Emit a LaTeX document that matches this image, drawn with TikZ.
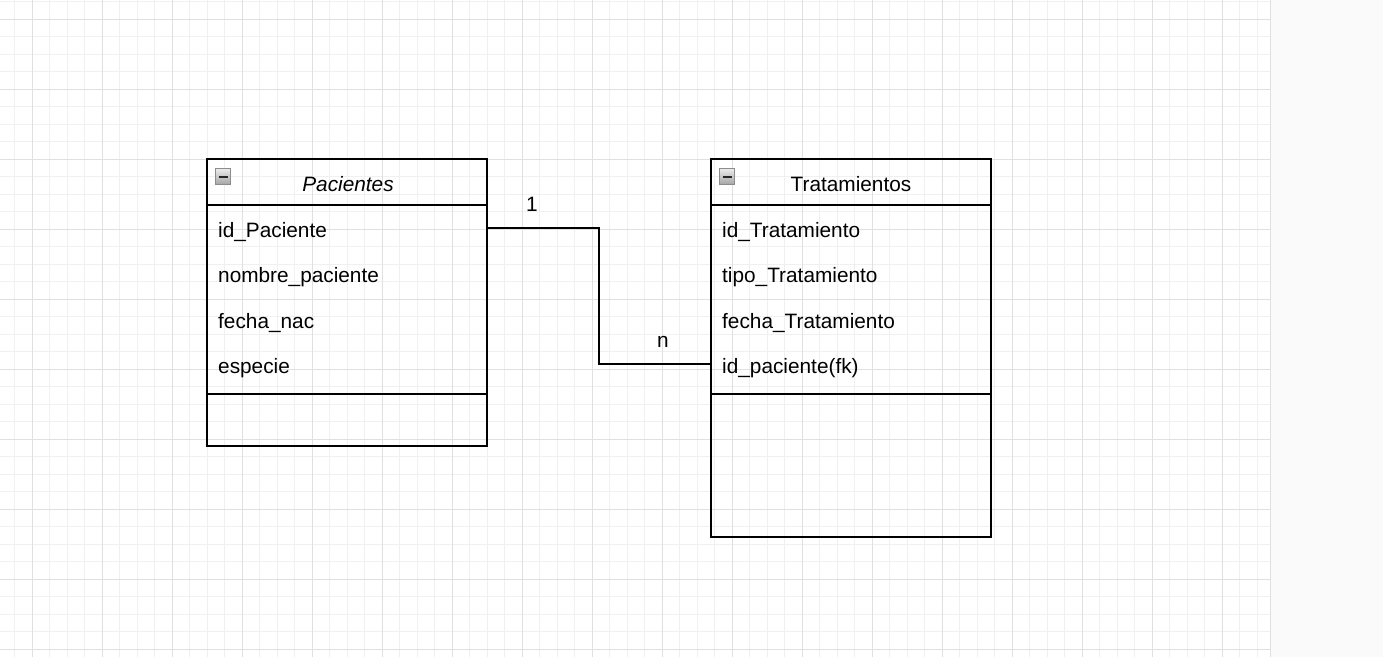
\documentclass[tikz,border=0pt]{standalone}
\usepackage{fontspec}
\setmainfont{Liberation Sans}
\begin{document}
\begin{tikzpicture}[x=1pt,y=-1pt,
  minorgrid/.style={draw=black!6,line width=1pt},
  majorgrid/.style={draw=black!12,line width=1pt},
  classbox/.style={draw=black,line width=1.8pt,minimum width=280pt,inner sep=0pt,outer sep=0pt,anchor=north west},
  sepline/.style={draw=black,line width=1.8pt},
  rowtext/.style={anchor=base west,inner sep=0pt,font=\fontsize{20.8}{24}\selectfont},
  headtext/.style={anchor=base,inner sep=0pt,font=\fontsize{20.8}{24}\selectfont},
  mult/.style={anchor=base,inner sep=0pt,font=\fontsize{20.8}{24}\selectfont},
  conn/.style={draw=black,line width=1.8pt},
  icon/.style={draw=black!45,line width=1pt,top color=black!8,bottom color=black!35,minimum width=15.5pt,minimum height=15.5pt,inner sep=0pt}
]
\useasboundingbox (0,0) rectangle (1383,657);
\fill[white] (0,0) rectangle (1383,657);
% grid
\begin{scope}
\clip (0,0) rectangle (1270,657);
\foreach \x in {-2.7,14.8,...,1280} \draw[minorgrid] (\x,0) -- (\x,657);
\foreach \y in {1.8,19.3,...,660} \draw[minorgrid] (0,\y) -- (1270,\y);
\foreach \x in {32.3,102.3,...,1280} \draw[majorgrid] (\x,0) -- (\x,657);
\foreach \y in {19.3,89.3,...,660} \draw[majorgrid] (0,\y) -- (1270,\y);
\end{scope}
% side panel
\fill[black!2] (1270,0) rectangle (1383,657);
\draw[black!12,line width=1.5pt] (1270.5,0) -- (1270.5,657);

% Pacientes
\node[classbox,minimum height=287pt] (pac) at (207,159) {};
\draw[sepline] (pac.west |- 0,205) -- (pac.east |- 0,205);
\draw[sepline] (pac.west |- 0,394) -- (pac.east |- 0,394);
\node[icon] (picon) at (223,176.5) {};
\draw[black!85,line width=2pt] (218.5,176.5) -- (227.5,176.5);
\node[headtext] (ptitle) at (348,191) {\itshape Pacientes};
\node[rowtext] (pid) at (218,237) {id\_Paciente};
\node[rowtext] (pnom) at (218,282) {nombre\_paciente};
\node[rowtext] (pfec) at (218,328) {fecha\_nac};
\node[rowtext] (pesp) at (218,373) {especie};

% Tratamientos
\node[classbox,minimum height=378pt] (trat) at (711,159) {};
\draw[sepline] (trat.west |- 0,205) -- (trat.east |- 0,205);
\draw[sepline] (trat.west |- 0,394) -- (trat.east |- 0,394);
\node[icon] (ticon) at (727,176.5) {};
\draw[black!85,line width=2pt] (722.5,176.5) -- (731.5,176.5);
\node[headtext] (ttitle) at (851,191) {Tratamientos};
\node[rowtext] (tid) at (722,237) {id\_Tratamiento};
\node[rowtext] (ttipo) at (722,282) {tipo\_Tratamiento};
\node[rowtext] (tfec) at (722,328) {fecha\_Tratamiento};
\node[rowtext] (tfk) at (722,373) {id\_paciente(fk)};

% connector
\coordinate (cstart) at (pac.east |- 0,228);
\coordinate (cend) at (trat.west |- 0,364);
\draw[conn] (cstart) -- (599,228) -- (599,364) -- (cend);
\node[mult] (one) at (532,211) {1};
\node[mult] (many) at (663,347) {n};
\end{tikzpicture}
\end{document}
